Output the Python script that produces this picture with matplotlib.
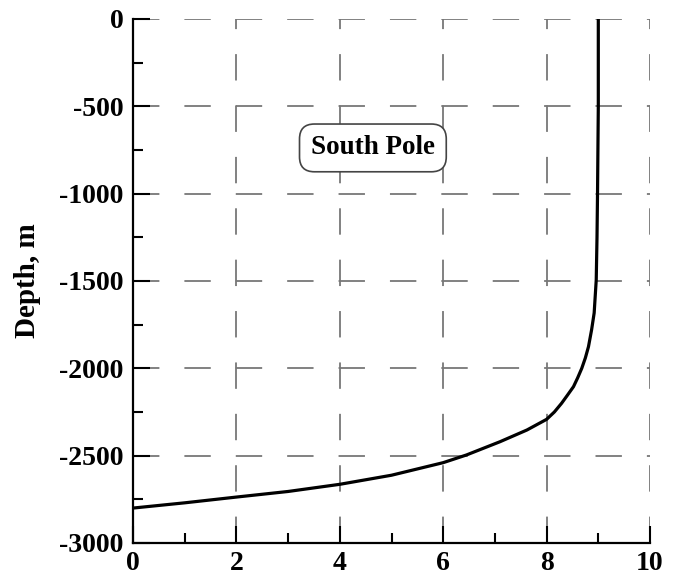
import matplotlib
matplotlib.use('Agg')
import matplotlib.pyplot as plt
from matplotlib.ticker import MultipleLocator

# 읽어낸 곡선 값 (x, 깊이 m)
x_vals = [0, 1, 2, 3, 4, 5, 6, 6.45, 7.1, 7.62, 8.0, 8.15, 8.29, 8.4, 8.52,
          8.6, 8.68, 8.75, 8.81, 8.87, 8.92, 8.96, 8.975, 8.985, 9.0, 9.0]
depth = [-2800, -2770, -2737, -2705, -2664, -2612, -2540, -2496, -2420, -2353,
         -2292, -2250, -2200, -2155, -2105, -2055, -2000, -1940, -1876, -1780,
         -1683, -1494, -1250, -1000, -500, 0]

x_ticks = [0, 2, 4, 6, 8, 10]
y_ticks = [0, -500, -1000, -1500, -2000, -2500, -3000]
label_text = 'South Pole'

plt.rcParams['font.family'] = ['Liberation Serif', 'DejaVu Serif']
plt.rcParams['font.weight'] = 'bold'
plt.rcParams['axes.unicode_minus'] = False
plt.rcParams['lines.scale_dashes'] = False

fig = plt.figure(figsize=(6.74, 5.83), dpi=100)
ax = fig.add_axes([133 / 674, 40 / 583, 517 / 674, 524 / 583])

ax.plot(x_vals, depth, color='black', lw=2.3, zorder=3,
        solid_joinstyle='round')

ax.set_xlim(0, 10)
ax.set_ylim(-3000, 0)
ax.set_xticks(x_ticks)
ax.set_yticks(y_ticks)
ax.set_xticklabels([str(t) for t in x_ticks])
ax.set_yticklabels([str(t) for t in y_ticks])
ax.xaxis.set_minor_locator(MultipleLocator(1))
ax.yaxis.set_minor_locator(MultipleLocator(250))

ax.grid(True, which='major', color='#777777', lw=1.3, linestyle=(0, (19, 18)))

for side in ['top', 'right']:
    ax.spines[side].set_visible(False)
for side in ['left', 'bottom']:
    ax.spines[side].set_linewidth(1.6)

ax.tick_params(which='major', direction='in', length=12, width=1.5,
               labelsize=20, pad=7)
ax.tick_params(which='minor', direction='in', length=7, width=1.5)
ax.tick_params(axis='x', pad=6)

ax.set_ylabel('Depth, m', fontsize=21, fontweight='bold', labelpad=13)

ax.text(4.64, -738, label_text, fontsize=19.5, fontweight='bold',
        ha='center', va='center', zorder=4,
        bbox=dict(boxstyle='round,pad=0.42,rounding_size=0.55',
                  facecolor='white', edgecolor='#444444', lw=1.2))

fig.savefig('out.png', dpi=100)
